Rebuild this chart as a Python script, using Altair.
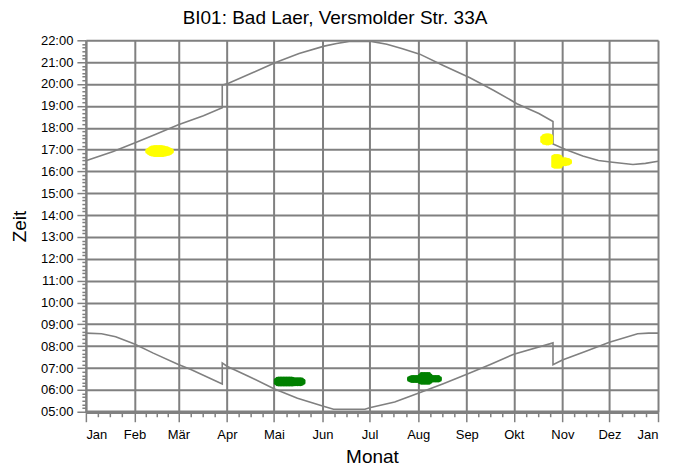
import altair as alt
import pandas as pd

# ---------------- data ----------------
MONTHS = ["Jan", "Feb", "Mär", "Apr", "Mai", "Jun", "Jul", "Aug", "Sep", "Okt", "Nov", "Dez", "Jan"]
MONTH_START = [0, 31, 59, 90, 120, 151, 181, 212, 243, 273, 304, 334, 365]
HOURS = [5, 6, 7, 8, 9, 10, 11, 12, 13, 14, 15, 16, 17, 18, 19, 20, 21, 22]

SUNSET_DAY = [0, 17, 31, 45, 59, 75, 87, 87, 91, 107, 121, 136, 152, 160, 168, 182,
              192, 202, 213, 228, 245, 260, 275, 289, 298, 298, 306, 317, 327, 336, 349, 357, 365]
SUNSET_TIME = ["16:29", "16:54", "17:18", "17:43", "18:08", "18:33", "18:55", "19:57", "20:02", "20:32",
               "20:59", "21:24", "21:44", "21:51", "21:57", "21:57", "21:49", "21:37", "21:22", "20:51",
               "20:17", "19:43", "19:06", "18:39", "18:17", "17:15", "17:00", "16:42", "16:30", "16:25",
               "16:19", "16:22", "16:28"]

SUNRISE_DAY = [0, 10, 19, 31, 43, 59, 67, 87, 87, 90, 104, 120, 135, 151, 158, 178, 181, 197, 212, 228,
               243, 258, 273, 298, 298, 304, 319, 334, 352, 359, 365]
SUNRISE_TIME = ["8:36", "8:34", "8:26", "8:06", "7:41", "7:10", "6:56", "6:16", "7:14", "7:05",
                "6:37", "6:03", "5:37", "5:16", "5:07", "5:07", "5:11", "5:27", "5:51", "6:17",
                "6:43", "7:10", "7:38", "8:09", "7:09", "7:22", "7:46", "8:11", "8:34", "8:36", "8:36"]

# shadow periods (day of year, start, end)
Y1_DAY = [39, 40, 41, 42, 43, 44, 45, 46, 47, 48, 49, 50, 51, 52, 53, 54, 55]
Y1_START = ["16:53", "16:50", "16:47", "16:46", "16:45", "16:44", "16:44", "16:44", "16:44", "16:44",
            "16:44", "16:45", "16:46", "16:47", "16:48", "16:50", "16:53"]
Y1_END = ["16:58", "17:01", "17:04", "17:06", "17:07", "17:08", "17:08", "17:08", "17:08", "17:08",
          "17:07", "17:06", "17:05", "17:04", "17:02", "17:00", "16:58"]

Y2_DAY = [291, 292, 293, 294, 295, 296, 297]
Y2_START = ["17:22", "17:18", "17:17", "17:16", "17:16", "17:17", "17:19"]
Y2_END = ["17:34", "17:38", "17:39", "17:40", "17:40", "17:39", "17:37"]

Y3_DAY = [298, 299, 300, 301, 302, 303, 304, 305, 306, 307, 308, 309]
Y3_START = ["16:14", "16:12", "16:12", "16:12", "16:12", "16:13", "16:18", "16:19", "16:19", "16:20", "16:21", "16:24"]
Y3_END = ["16:41", "16:43", "16:43", "16:43", "16:42", "16:40", "16:34", "16:34", "16:34", "16:33", "16:32", "16:29"]

G1_DAY = [121, 122, 123, 124, 125, 126, 127, 128, 129, 130, 131, 132, 133, 134, 135, 136, 137, 138, 139]
G1_START = ["6:18", "6:15", "6:14", "6:14", "6:14", "6:14", "6:14", "6:14", "6:14", "6:14",
            "6:14", "6:14", "6:15", "6:15", "6:15", "6:15", "6:15", "6:16", "6:19"]
G1_END = ["6:28", "6:31", "6:32", "6:32", "6:32", "6:32", "6:32", "6:32", "6:32", "6:32",
          "6:32", "6:31", "6:30", "6:30", "6:30", "6:30", "6:30", "6:29", "6:26"]

G2_DAY = [206, 207, 208, 209, 210, 211, 212, 213, 214, 215, 216, 217, 218, 219, 220, 221, 222, 223, 224, 225, 226]
G2_START = ["6:27", "6:25", "6:24", "6:24", "6:24", "6:24", "6:24", "6:20", "6:19", "6:19", "6:19",
            "6:19", "6:19", "6:19", "6:22", "6:25", "6:25", "6:25", "6:25", "6:25", "6:27"]
G2_END = ["6:33", "6:35", "6:36", "6:36", "6:36", "6:36", "6:36", "6:40", "6:44", "6:44", "6:44",
          "6:44", "6:44", "6:44", "6:40", "6:36", "6:36", "6:36", "6:36", "6:36", "6:33"]

YELLOW = "#ffff00"
GREEN = "#008000"
GRAY = "#808080"
FONT = "Liberation Sans"


def to_h(s):
    h, m = s.split(":")
    return int(h) + int(m) / 60.0


rows = []
for name, days, times in [("sunset", SUNSET_DAY, SUNSET_TIME), ("sunrise", SUNRISE_DAY, SUNRISE_TIME)]:
    for i, (d, t) in enumerate(zip(days, times)):
        rows.append({"day": d, "hour": to_h(t), "curve": name, "seq": i})
lines_df = pd.DataFrame(rows)

brows = []
for name, col, days, st, en in [("y1", YELLOW, Y1_DAY, Y1_START, Y1_END),
                                ("y2", YELLOW, Y2_DAY, Y2_START, Y2_END),
                                ("y3", YELLOW, Y3_DAY, Y3_START, Y3_END),
                                ("g1", GREEN, G1_DAY, G1_START, G1_END),
                                ("g2", GREEN, G2_DAY, G2_START, G2_END)]:
    for d, a, b in zip(days, st, en):
        brows.append({"day": d, "hour": to_h(a), "hour2": to_h(b), "blob": name, "col": col})
blobs_df = pd.DataFrame(brows)

# axis tick values: month starts plus quarter-month minor ticks; hours plus 10-minute minor ticks
x_vals = []
for i in range(12):
    a, b = MONTH_START[i], MONTH_START[i + 1]
    for k in range(4):
        x_vals.append(a + k * (b - a) / 4.0)
x_vals.append(365)
y_vals = []
for h in HOURS[:-1]:
    for m in range(0, 60, 10):
        y_vals.append(h + m / 60.0)
y_vals.append(22)

ms = "[" + ",".join(str(v) for v in MONTH_START) + "]"
mn = "[" + ",".join("'" + v + "'" for v in MONTHS) + "]"
x_major_test = f"indexof({ms}, datum.value) >= 0"
x_label_expr = f"{x_major_test} ? {mn}[indexof({ms}, datum.value)] : ''"
y_major_test = "datum.value % 1 == 0"
y_label_expr = f"{y_major_test} ? (datum.value < 10 ? '0' : '') + datum.value + ':00' : ''"

x_scale = alt.Scale(domain=[0, 365], nice=False, zero=False)
y_scale = alt.Scale(domain=[5, 22], nice=False, zero=False)

x_axis = alt.Axis(
    title="Monat", values=x_vals, labelExpr=x_label_expr, labelOverlap=False,
    grid=True, gridColor=GRAY, gridWidth=2,
    gridOpacity={"condition": {"test": x_major_test, "value": 1}, "value": 0},
    tickColor=GRAY, tickWidth=1.5,
    tickSize={"condition": {"test": x_major_test, "value": 10}, "value": 5},
    domainColor=GRAY, domainWidth=3.5,
    labelFont=FONT, labelFontSize=13, labelColor="#000000", labelPadding=7,
    titleFont=FONT, titleFontSize=19, titleFontWeight="normal", titleColor="#000000", titlePadding=6,
)
y_axis = alt.Axis(
    title="Zeit", values=y_vals, labelExpr=y_label_expr, labelOverlap=False,
    grid=True, gridColor=GRAY, gridWidth=2,
    gridOpacity={"condition": {"test": y_major_test, "value": 1}, "value": 0},
    tickColor=GRAY, tickWidth=1.5,
    tickSize={"condition": {"test": y_major_test, "value": 9}, "value": 4},
    domainColor=GRAY, domainWidth=2,
    labelFont=FONT, labelFontSize=13, labelColor="#000000", labelPadding=4,
    titleFont=FONT, titleFontSize=19, titleFontWeight="normal", titleColor="#000000", titlePadding=11,
)

lines = alt.Chart(lines_df).mark_line(color=GRAY, strokeWidth=1.6).encode(
    x=alt.X("day:Q", scale=x_scale, axis=x_axis),
    y=alt.Y("hour:Q", scale=y_scale, axis=y_axis),
    detail="curve:N",
    order="seq:Q",
)

blobs = alt.Chart(blobs_df).mark_rule(strokeWidth=3.5, strokeCap="round").encode(
    x=alt.X("day:Q", scale=x_scale, axis=x_axis),
    y=alt.Y("hour:Q", scale=y_scale, axis=y_axis),
    y2="hour2:Q",
    color=alt.Color("col:N", scale=None),
    detail="blob:N",
)

chart = alt.layer(lines, blobs).properties(
    width=573,
    height=372,
    autosize=alt.AutoSizeParams(type="none"),
    padding={"left": 78, "top": 32, "right": 8, "bottom": 62},
    title=alt.TitleParams(
        "BI01: Bad Laer, Versmolder Str. 33A", font=FONT, fontSize=19, fontWeight="normal",
        color="#000000", anchor="middle", dx=-37, offset=6,
    ),
).configure_view(stroke=GRAY, strokeWidth=2).configure(background="white")

chart.save("out.html", embed_options={"renderer": "svg", "actions": False})
